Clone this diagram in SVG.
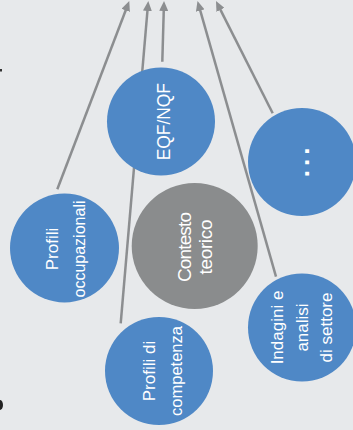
<svg xmlns="http://www.w3.org/2000/svg" width="353" height="430" viewBox="0 0 353 430">
<defs>
<marker id="ah" markerUnits="userSpaceOnUse" markerWidth="10" markerHeight="9" refX="2" refY="4.5" orient="auto">
<path d="M0,0 L10,4.5 L0,9 z" fill="#8c8e90"/>
</marker>
<style>
.conn{stroke:#8c8e90;stroke-width:2.5;fill:none;marker-end:url(#ah)}
.blue{fill:#4f88c6}
.gray{fill:#8a8c8d}
.lbl{font-family:"Liberation Sans",Arial,sans-serif;font-size:17px;fill:#ffffff;text-anchor:middle}
</style>
</defs>
<rect width="353" height="430" fill="#e7e9eb"/>
<rect x="0" y="69" width="2" height="2.5" fill="#333"/>
<ellipse cx="0" cy="405" rx="3" ry="5" fill="#222"/>
<g id="connectors">
<line class="conn" x1="57.3" y1="189.3" x2="126.4" y2="8.5"/>
<line class="conn" x1="120.7" y1="323.3" x2="147.6" y2="9"/>
<line class="conn" x1="162.3" y1="61.7" x2="163.8" y2="9"/>
<line class="conn" x1="276" y1="276.7" x2="199.7" y2="8.7"/>
<line class="conn" x1="272.7" y1="113.3" x2="219.6" y2="8.1"/>
</g>
<g id="eqf">
<circle class="blue" cx="161" cy="121.5" r="54"/>
<text class="lbl" transform="translate(170,121.7) rotate(-90)" style="font-size:19px" textLength="77" lengthAdjust="spacingAndGlyphs">EQF/NQF</text>
</g>
<g id="altro">
<circle class="blue" cx="302" cy="162" r="54"/>
<text class="lbl" transform="translate(308.5,160.3) rotate(-90)" style="font-size:26px;font-weight:bold;letter-spacing:4px">...</text>
</g>
<g id="profili-occupazionali">
<circle class="blue" cx="64.5" cy="248" r="54.5"/>
<text class="lbl" transform="translate(58.3,249) rotate(-90)"><tspan x="0" y="0">Profili</tspan><tspan x="0" y="26.7" textLength="97" lengthAdjust="spacingAndGlyphs">occupazionali</tspan></text>
</g>
<g id="contesto-teorico">
<circle class="gray" cx="194.7" cy="246" r="63"/>
<text class="lbl" transform="translate(190.7,247) rotate(-90)" style="font-size:19px"><tspan x="0" y="0" textLength="70">Contesto</tspan><tspan x="0" y="21" textLength="55">teorico</tspan></text>
</g>
<g id="profili-competenza">
<circle class="blue" cx="159" cy="371" r="54"/>
<text class="lbl" transform="translate(155,371) rotate(-90)"><tspan x="0" y="0">Profili di</tspan><tspan x="0" y="26.7" textLength="90" lengthAdjust="spacingAndGlyphs">competenza</tspan></text>
</g>
<g id="indagini">
<circle class="blue" cx="302" cy="327.5" r="54"/>
<text class="lbl" transform="translate(282.7,327.5) rotate(-90)"><tspan x="0" y="0">Indagini e</tspan><tspan x="0" y="25.6">analisi</tspan><tspan x="0" y="49">di settore</tspan></text>
</g>
</svg>
